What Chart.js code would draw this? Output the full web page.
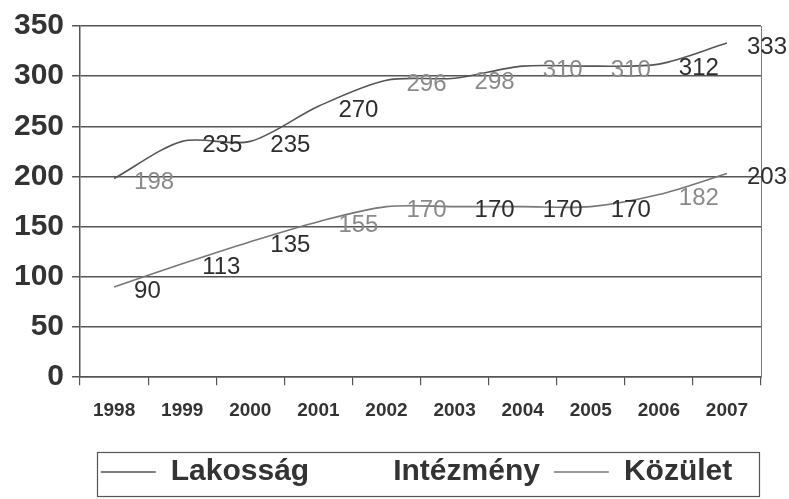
<!DOCTYPE html>
<html>
<head>
<meta charset="utf-8">
<script src="https://cdn.jsdelivr.net/npm/chart.js@4/dist/chart.umd.min.js"></script>
<style>
  html, body { margin: 0; padding: 0; background: #fff; }
  #wrap { width: 789px; height: 499px; position: relative; }
</style>
</head>
<body>
<div id="wrap"><canvas id="myLineChart"></canvas></div>
<script>
// adatok
var years = ["1998", "1999", "2000", "2001", "2002", "2003", "2004", "2005", "2006", "2007"];
var lakossag = [198, 235, 235, 270, 296, 298, 310, 310, 312, 333];
var intezmeny = [null, null, null, null, null, null, null, null, null, null];
var kozulet = [90, 113, 135, 155, 170, 170, 170, 170, 182, 203];
var yTicks = [0, 50, 100, 150, 200, 250, 300, 350];

// címke színek (szkennelt kép: vegyes sötét/szürke)
var dark = "#2e2e2e", grey = "#8a8a8a";
var lakossagLabelColors = [grey, dark, dark, dark, grey, grey, grey, grey, dark, dark];
var kozuletLabelColors = [dark, dark, dark, grey, grey, dark, dark, dark, grey, dark];

// adatcímkék a pontok jobb oldalán
var valueLabels = {
    id: 'valueLabels',
    afterDatasetsDraw: function(chart){
        var ctx = chart.ctx;
        ctx.save();
        ctx.font = '24px Arial, "Liberation Sans", sans-serif';
        ctx.textAlign = 'left';
        ctx.textBaseline = 'middle';
        chart.data.datasets.forEach(function(ds, i){
            if(!ds.labelColors) return;
            chart.getDatasetMeta(i).data.forEach(function(pt, j){
                if(ds.data[j] == null) return;
                ctx.fillStyle = ds.labelColors[j];
                ctx.fillText(ds.data[j], pt.x + 20, pt.y + 4);
            });
        });
        ctx.restore();
    }
};

// jelmagyarázat eltolása + keret
var legendBox = {
    id: 'legendBox',
    afterLayout: function(chart){
        chart.legend.left += 33;
        chart.legend.right += 33;
    },
    afterDraw: function(chart){
        var ctx = chart.ctx;
        ctx.save();
        ctx.strokeStyle = "#555";
        ctx.lineWidth = 1.2;
        ctx.strokeRect(97.5, 452.5, 662, 44);
        ctx.restore();
    }
};

var ctx = document.getElementById("myLineChart");
var myLineChart = new Chart(ctx, {
    type: 'line',
    data: {
        labels: years,
        datasets: [{
            label: "Lakosság",
            data: lakossag,
            borderColor: "#555",
            borderWidth: 1.6,
            pointRadius: 0,
            tension: 0.3,
            labelColors: lakossagLabelColors
        }, {
            label: "Intézmény",
            data: intezmeny,
            borderColor: "#fff",
            borderWidth: 1.6,
            pointRadius: 0
        }, {
            label: "Közület",
            data: kozulet,
            borderColor: "#777",
            borderWidth: 1.6,
            pointRadius: 0,
            tension: 0.3,
            labelColors: kozuletLabelColors
        }]
    },
    options: {
        responsive: true,
        maintainAspectRatio: false,
        animation: false,
        layout: { padding: { top: 14, right: 28, left: 6, bottom: 2 } },
        plugins: {
            tooltip: { enabled: false },
            legend: {
                position: 'bottom',
                labels: {
                    usePointStyle: true,
                    pointStyle: 'line',
                    pointStyleWidth: 55,
                    padding: 14,
                    color: "#333",
                    font: { family: 'Arial, "Liberation Sans", sans-serif', size: 30, weight: 'bold' }
                }
            }
        },
        scales: {
            x: {
                offset: true,
                afterFit: function(axis){ axis.height += 7; },
                grid: { display: true, offset: true, drawOnChartArea: false, tickLength: 8, color: "#555", lineWidth: 1.2 },
                border: { color: "#555", width: 1.5 },
                ticks: {
                    color: "#333",
                    padding: 14,
                    maxRotation: 0,
                    font: { family: 'Arial, "Liberation Sans", sans-serif', size: 19, weight: 'bold' }
                }
            },
            y: {
                min: 0,
                max: 350,
                afterBuildTicks: function(axis){
                    axis.ticks = yTicks.map(function(v){ return { value: v }; });
                },
                grid: { color: "#555", lineWidth: 1.5, tickLength: 8 },
                border: { color: "#555", width: 1.5 },
                ticks: {
                    color: "#333",
                    padding: 8,
                    font: { family: 'Arial, "Liberation Sans", sans-serif', size: 30, weight: 'bold' }
                }
            },
            y2: {
                position: 'right',
                min: 0,
                max: 350,
                grid: { drawOnChartArea: false, tickLength: 0 },
                border: { color: "#777", width: 1 },
                ticks: { display: false }
            }
        }
    },
    plugins: [valueLabels, legendBox]
});
</script>
</body>
</html>
